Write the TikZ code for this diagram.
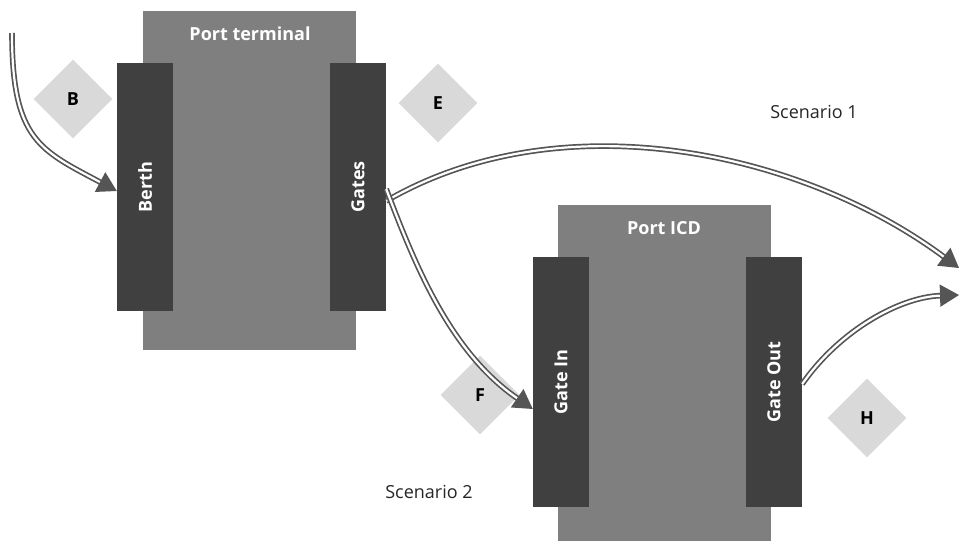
\documentclass[tikz,border=0pt]{standalone}
\usepackage{fontspec}
\setmainfont{Open Sans}
\usetikzlibrary{shapes.geometric,arrows.meta}
\definecolor{boxgray}{HTML}{7F7F7F}
\definecolor{bardark}{HTML}{404040}
\definecolor{diagray}{HTML}{D9D9D9}
\definecolor{arrgray}{HTML}{555555}
\tikzset{
  bigbox/.style={fill=boxgray, draw=none, anchor=north west, inner sep=0},
  barbox/.style={fill=bardark, draw=none, inner sep=0, minimum width=56pt, minimum height=248pt},
  bartext/.style={text=white, font=\bfseries\fontsize{18}{20}\selectfont, rotate=90},
  titletext/.style={text=white, font=\bfseries\fontsize{18}{20}\selectfont},
  diam/.style={diamond, fill=diagray, draw=none, inner sep=0, minimum width=79pt, minimum height=79pt, aspect=1},
  diamtext/.style={font=\bfseries\fontsize{18}{20}\selectfont, text=black},
  scen/.style={font=\fontsize{18}{20}\selectfont, text=black!85},
  flow/.style={draw=arrgray, line width=1.7pt, double=white, double distance=2.2pt,
    -{Triangle[length=19pt,width=22pt,fill=arrgray]}}
}
\begin{document}
\begin{tikzpicture}[x=1pt,y=-1pt]
\useasboundingbox (0,0) rectangle (961,541);
% Port terminal
\node[bigbox, minimum width=213pt, minimum height=339pt] (pt) at (143,11) {};
\node[titletext] (ptl) at (250,34) {Port terminal};
\node[barbox] (berth) at (145,187) {};
\node[bartext] at (berth) {Berth};
\node[barbox] (gates) at (358,187) {};
\node[bartext] at (gates) {Gates};
% Port ICD
\node[bigbox, minimum width=213pt, minimum height=336pt] (icd) at (558,205) {};
\node[titletext] (icdl) at (664,228) {Port ICD};
\node[barbox, minimum height=250pt] (gin) at (561,382) {};
\node[bartext] at (gin) {Gate In};
\node[barbox, minimum height=250pt] (gout) at (774,382) {};
\node[bartext] at (gout) {Gate Out};
% diamonds
\node[diam] (dB) at (73,99) {};
\node[diamtext] at (dB) {B};
\node[diam] (dE) at (438,103) {};
\node[diamtext] at (dE) {E};
\node[diam] (dF) at (480,395) {};
\node[diamtext] at (dF) {F};
\node[diam] (dH) at (867,418) {};
\node[diamtext] at (dH) {H};
% scenario labels
\node[scen] (s1) at (814,112) {Scenario 1};
\node[scen] (s2) at (429,492) {Scenario 2};
% connectors
\coordinate (start) at (12,33);
\coordinate (end1) at (959,268);
\coordinate (end2) at (959,295);
\draw[flow] (start) .. controls (12,140) and (40,150) .. ([yshift=-4pt]berth.west);
\draw[flow] ([yshift=-14pt]gates.east) .. controls (560,100) and (800,150) .. (end1);
\draw[flow] ([yshift=-2pt]gates.east) .. controls (415,265) and (450,352) .. ([yshift=-27pt]gin.west);
\draw[flow] ([yshift=-2pt]gout.east) .. controls (840,330) and (900,297) .. (end2);
\end{tikzpicture}
\end{document}
